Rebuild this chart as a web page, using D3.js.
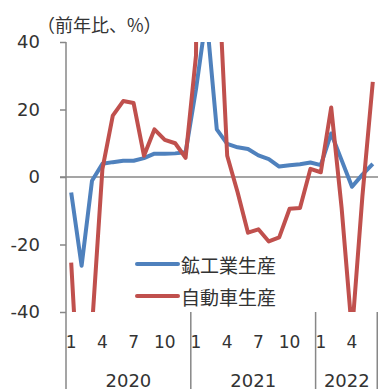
<!DOCTYPE html>
<html>
<head>
<meta charset="utf-8">
<script src="https://cdn.jsdelivr.net/npm/d3@7"></script>
<style>
  html, body { margin: 0; padding: 0; background: #fff; }
  svg { display: block; }
  text { font-family: "DejaVu Sans", sans-serif; fill: #333; }
  .jp { font-family: "Noto Sans CJK JP", sans-serif; }
</style>
</head>
<body>
<svg id="chart" width="378" height="389"></svg>
<script>
// Monthly categories, Jan 2020 – Jun 2022
const years = ["2020", "2021", "2022"];
const monthsInYear = [12, 12, 6];
const monthTicks = [1, 4, 7, 10];
const yTicks = [-40, -20, 0, 20, 40];

// Year-on-year change, %
const miningIndustry = [
  -4.6, -26.3, -1.1, 3.9, 4.4, 4.8, 4.8, 5.6, 6.9, 6.9, 7.0, 7.3,
  26.0, 48.0, 14.1, 9.8, 8.8, 8.3, 6.4, 5.3, 3.1, 3.5, 3.8, 4.3,
  3.5, 12.9, 5.0, -2.9, 0.7, 3.9
];
const autoProduction = [
  -25.4, -80.0, -44.5, 2.3, 18.2, 22.5, 21.9, 6.3, 14.1, 11.0, 10.0, 5.7,
  36.0, 420.0, 70.0, 6.3, -4.5, -16.5, -15.5, -19.1, -17.9, -9.4, -9.2, 2.4,
  1.4, 20.6, -9.1, -46.1, -5.7, 28.2
];

const seriesNames = ["鉱工業生産", "自動車生産"];
const seriesColors = ["#4F81BD", "#C0504D"];

// Build the month list from the year table
const categories = [];
years.forEach((yr, i) => {
  for (let m = 1; m <= monthsInYear[i]; m++) categories.push({ year: yr, month: m, key: yr + "-" + m });
});

const svg = d3.select("#chart");
const plotLeft = 66, plotRight = 378, plotTop = 42, plotBottom = 312;
const axisColor = "#878787";

const x = d3.scaleBand().domain(categories.map(d => d.key)).range([plotLeft, plotRight]).padding(0);
const y = d3.scaleLinear().domain([-40, 40]).range([plotBottom, plotTop]);
const cx = k => x(k) + x.bandwidth() / 2;

// Title
svg.append("text").attr("class", "jp")
  .attr("x", 37).attr("y", 24).attr("dominant-baseline", "central")
  .attr("font-size", 18).text("（前年比、%）");

// Y axis ticks and labels (plain hyphen for negatives)
const yAxis = d3.axisLeft(y).tickValues(yTicks).tickSize(6).tickPadding(20).tickFormat(d => String(d));
const gy = svg.append("g").attr("transform", `translate(${plotLeft},0)`).call(yAxis);
gy.select(".domain").remove();
gy.selectAll(".tick line").attr("stroke", axisColor).attr("stroke-width", 1.5);
gy.selectAll(".tick text").attr("font-size", 18).attr("fill", "#333")
  .attr("font-family", "DejaVu Sans, sans-serif");

// Vertical axis line, running down through the category area
svg.append("line").attr("x1", plotLeft).attr("x2", plotLeft).attr("y1", plotTop).attr("y2", 389)
  .attr("stroke", axisColor).attr("stroke-width", 1.5);

// Year separators below the plot
const yearStarts = [];
let idx = 0;
years.forEach((yr, i) => { yearStarts.push(idx); idx += monthsInYear[i]; });
yearStarts.slice(1).forEach(s => {
  const xs = x(categories[s].key);
  svg.append("line").attr("x1", xs).attr("x2", xs).attr("y1", plotBottom).attr("y2", 389)
    .attr("stroke", axisColor).attr("stroke-width", 1.5);
});
svg.append("line").attr("x1", plotRight - 0.75).attr("x2", plotRight - 0.75).attr("y1", plotBottom).attr("y2", 389)
  .attr("stroke", axisColor).attr("stroke-width", 1.5);

// Month labels
svg.append("g").selectAll("text")
  .data(categories.filter(d => monthTicks.includes(d.month)))
  .join("text")
  .attr("x", d => cx(d.key)).attr("y", 342)
  .attr("text-anchor", "middle").attr("dominant-baseline", "central")
  .attr("font-size", 17).text(d => d.month);

// Year labels centred under each year's months
years.forEach((yr, i) => {
  const s = yearStarts[i], e = s + monthsInYear[i] - 1;
  const x0 = x(categories[s].key), x1 = x(categories[e].key) + x.bandwidth();
  svg.append("text").attr("x", (x0 + x1) / 2).attr("y", 380)
    .attr("text-anchor", "middle").attr("dominant-baseline", "central")
    .attr("font-size", 18).text(yr);
});

// Zero line
svg.append("line").attr("x1", plotLeft - 6).attr("x2", plotRight).attr("y1", y(0)).attr("y2", y(0))
  .attr("stroke", axisColor).attr("stroke-width", 1.5);

// Series lines, clipped to the plot area
svg.append("clipPath").attr("id", "plot-clip")
  .append("rect").attr("x", plotLeft).attr("y", plotTop)
  .attr("width", plotRight - plotLeft).attr("height", plotBottom - plotTop);

const line = d3.line().x((d, i) => cx(categories[i].key)).y(d => y(d));
const plot = svg.append("g").attr("clip-path", "url(#plot-clip)");
[miningIndustry, autoProduction].forEach((vals, i) => {
  plot.append("path").datum(vals)
    .attr("d", line)
    .attr("fill", "none")
    .attr("stroke", seriesColors[i])
    .attr("stroke-width", 4)
    .attr("stroke-linejoin", "round")
    .attr("stroke-linecap", "butt");
});

// Legend
const legend = svg.append("g");
seriesNames.forEach((name, i) => {
  const ly = 264 + i * 32;
  legend.append("line").attr("x1", 137).attr("x2", 178).attr("y1", ly).attr("y2", ly)
    .attr("stroke", seriesColors[i]).attr("stroke-width", 4).attr("stroke-linecap", "round");
  legend.append("text").attr("class", "jp")
    .attr("x", 181).attr("y", ly).attr("dominant-baseline", "central")
    .attr("font-size", 19).text(name);
});
</script>
</body>
</html>
